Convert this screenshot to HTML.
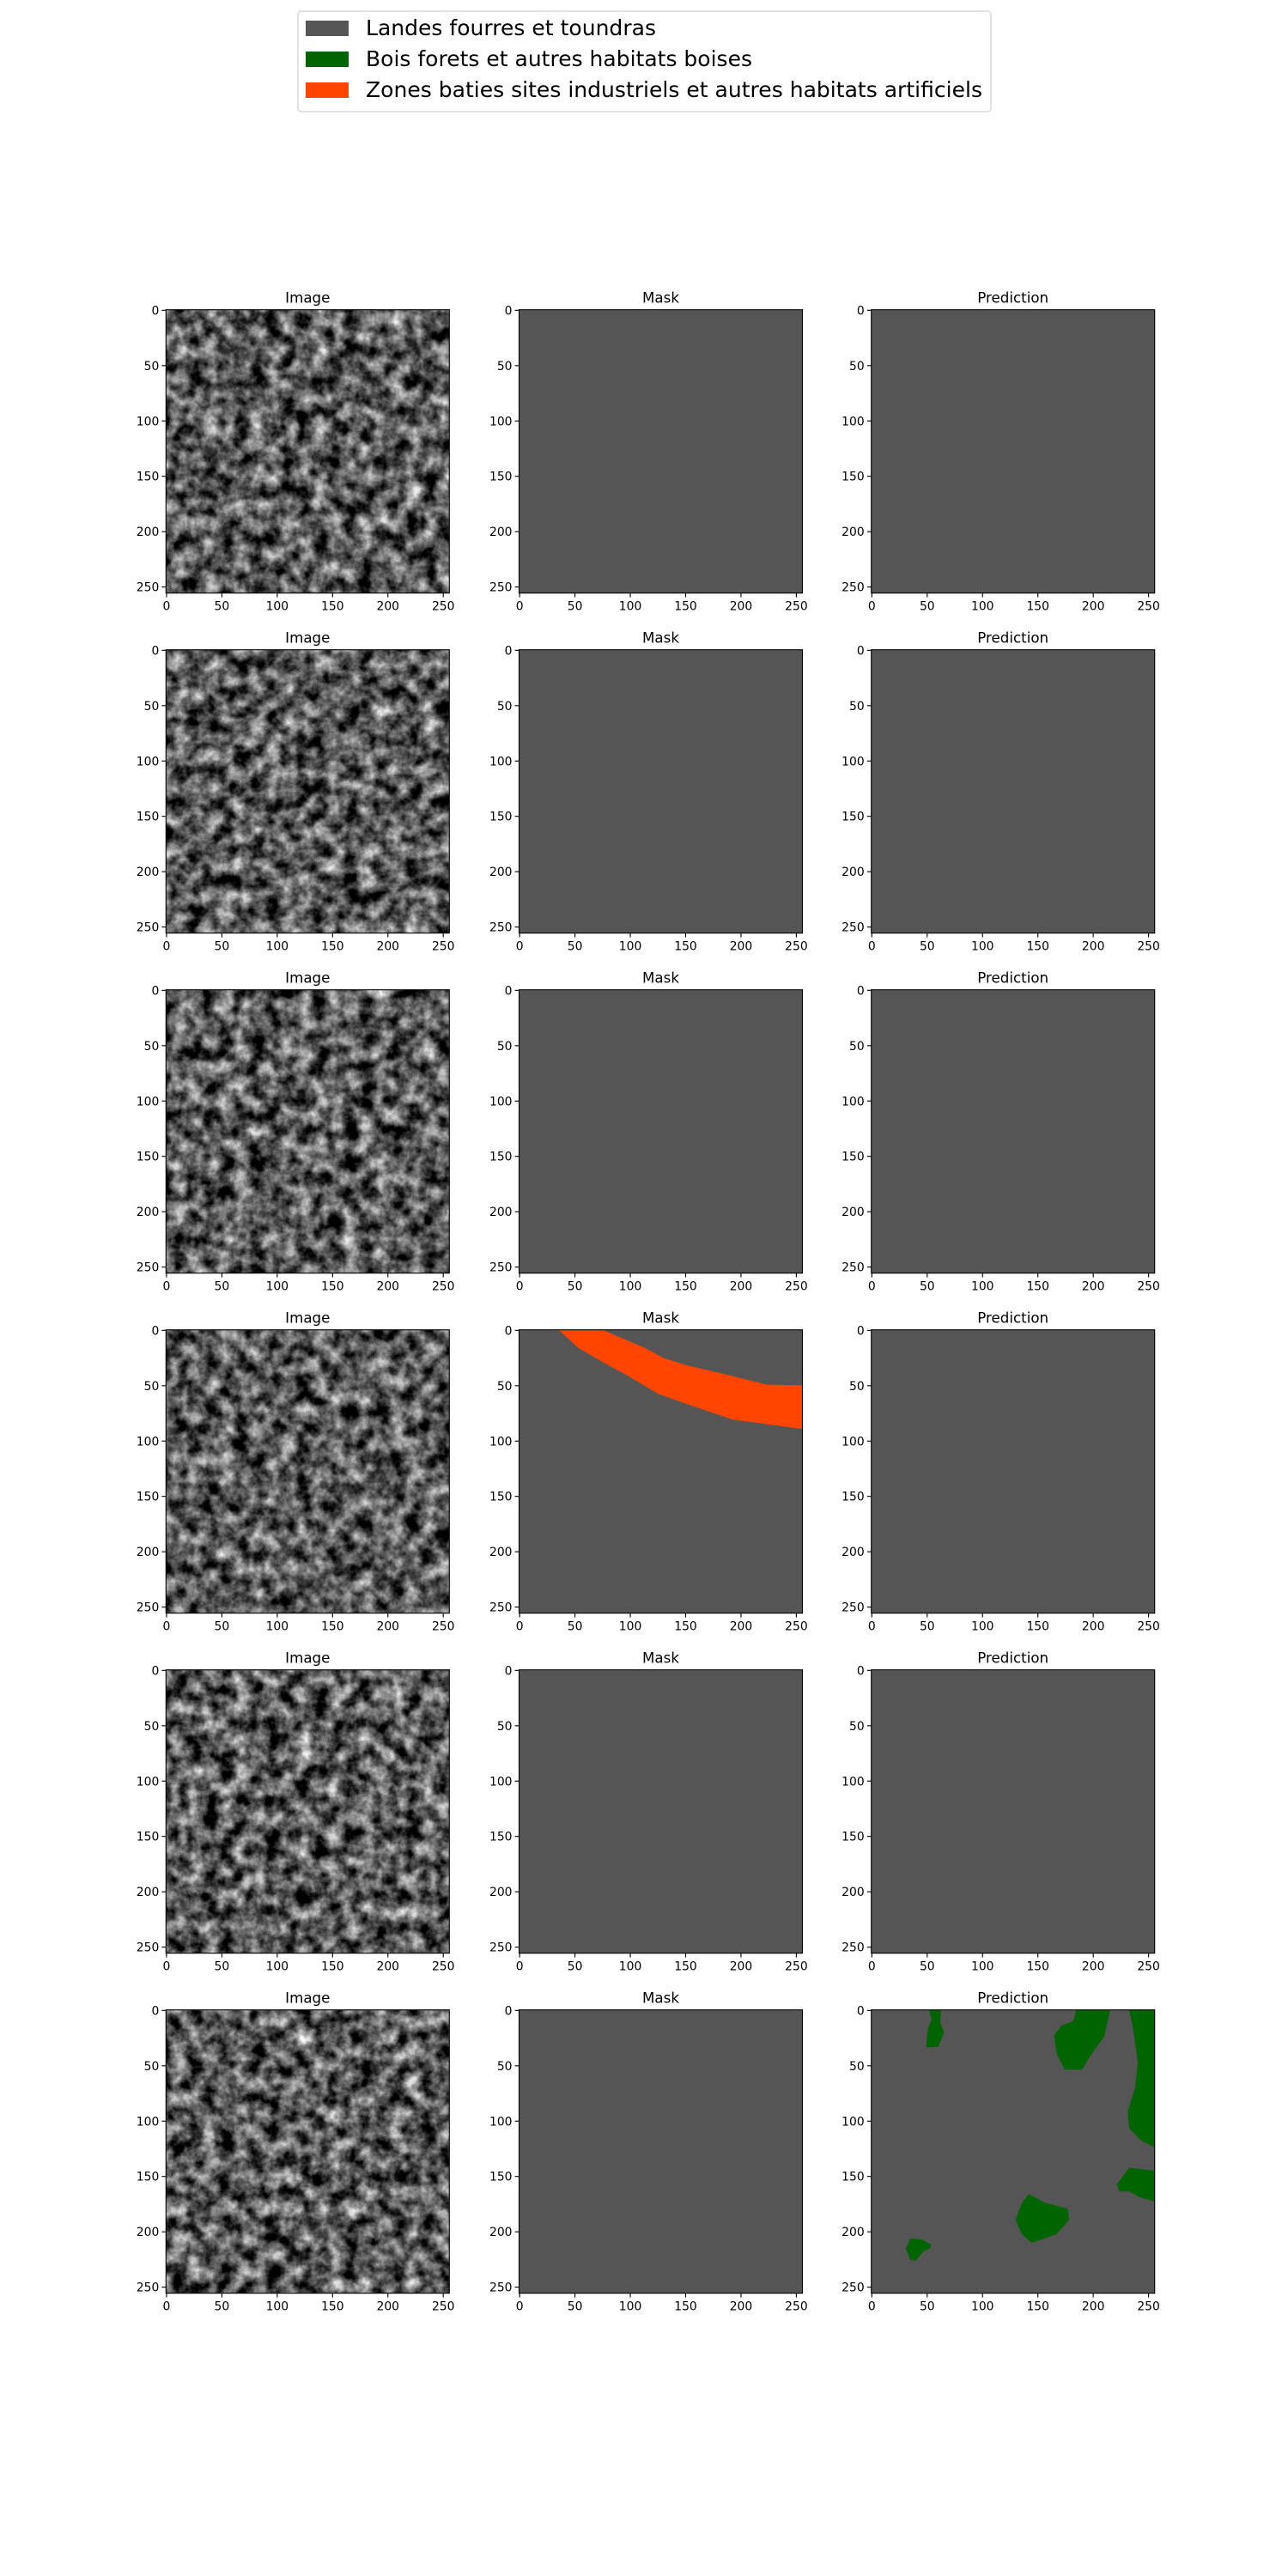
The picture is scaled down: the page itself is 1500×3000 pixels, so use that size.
<!DOCTYPE html>
<html><head><meta charset="utf-8"><title>Segmentation results</title>
<style>html,body{margin:0;padding:0;background:#fff;}svg{display:block;font-family:"DejaVu Sans","Liberation Sans",sans-serif;}</style>
</head><body>
<svg id="fig" width="1500" height="3000" viewBox="0 0 1500 3000" xmlns="http://www.w3.org/2000/svg">
<defs id="defs"></defs>
<g id="legend">
<rect x="347" y="13" width="807" height="117" rx="4" fill="#fff" stroke="#d0d0d0" stroke-width="1.2"/>
<rect x="356" y="24" width="50" height="18" fill="#555555"/>
<text x="426" y="41" font-size="25" textLength="338" lengthAdjust="spacingAndGlyphs">Landes fourres et toundras</text>
<rect x="356" y="60" width="50" height="18" fill="#006400"/>
<text x="426" y="77" font-size="25" textLength="450" lengthAdjust="spacingAndGlyphs">Bois forets et autres habitats boises</text>
<rect x="356" y="96" width="50" height="18" fill="#FF4500"/>
<text x="426" y="113" font-size="25" textLength="718" lengthAdjust="spacingAndGlyphs">Zones baties sites industriels et autres habitats artificiels</text>
</g>
<g id="panels"></g>
</svg>
<script>
// ---- data ----
const colTitles = ["Image", "Mask", "Prediction"];
const tickValues = [0, 50, 100, 150, 200, 250];
const rowCount = 6;
const imageSeeds = [3, 11, 17, 29, 41, 53];
// mask band (row 4), data coords [x, y]
const bandRow = 3;
const bandPolygon = [[35.7,0],[75.2,0],[114,16.5],[130.8,25.6],[151.5,32],[190.3,41.1],[223.9,49.6],[255.5,50.1],[255.5,89.5],[221.3,84.9],[192.9,81.1],[151.5,67],[125.6,57.9],[99.8,42.4],[74,28.2],[53.8,16.5]];
// prediction blobs (row 6), data coords
const predRow = 5;
const blobA = [[52,0],[63,0],[62.3,11.4],[65.7,20.4],[60.5,33.4],[49.4,34],[51.2,16.5],[54.6,8.8]];
const blobB = [[185,0],[215.7,0],[210.5,24.3],[200.7,37.2],[190.3,54],[174.8,54],[167.6,39.8],[165,23],[172.2,14],[182.6,10]];
const blobC = [[233,0],[255.5,0],[255.5,123.9],[244.6,118.7],[233,107],[231.7,91.5],[238.2,70.9],[240.8,47.6],[236.9,19.1]];
const blobD = [[233,142.7],[255.5,145.3],[255.5,173],[242,169],[233,164],[224,164],[221.9,157.5],[227.8,149.7]];
const blobE = [[142.5,166.5],[156.7,174.3],[177.4,179.5],[178.7,189.8],[167,202.8],[145,210.5],[136,202.7],[130.3,189.8],[136,174.3]];
const blobF = [[35.2,206.6],[45.5,207.4],[53.8,211.8],[53.3,215.1],[46.8,218.3],[40.3,226.5],[35.2,226],[31.3,215.7]];
const predBlobs = [blobA, blobB, blobC, blobD, blobE, blobF];

// ---- layout ----
const NS = "http://www.w3.org/2000/svg";
const colLeft = [193.3, 604.5, 1014.7];
const rowTop0 = 360.7, rowStep = 396, axSize = 330;
const scale = axSize / 256;
function sx(left, v) { return left + (v + 0.5) * scale; }
function sy(top, v) { return top + (v + 0.5) * scale; }
function px(left, v) { return left + v * scale; }
function py(top, v) { return top + v * scale; }
function mk(tag, attrs, parent) {
  const e = document.createElementNS(NS, tag);
  for (const k in attrs) e.setAttribute(k, attrs[k]);
  parent.appendChild(e);
  return e;
}
const panels = document.getElementById("panels");
const defs = document.getElementById("defs");
function poly(pts, left, top, fill, parent, name) {
  const p = mk("polygon", {points: pts.map(q => px(left, q[0]).toFixed(1) + "," + py(top, q[1]).toFixed(1)).join(" "), fill: fill}, parent);
  
  
}
for (let r = 0; r < rowCount; r++) {
  const top = rowTop0 + r * rowStep;
  for (let c = 0; c < 3; c++) {
    const left = colLeft[c];
    const g = mk("g", {}, panels);
    
    
    const t = mk("text", {x: left + axSize / 2, y: top - 8, "font-size": 16.7, "text-anchor": "middle"}, g);
    t.textContent = colTitles[c];
    
    
    if (c === 0) {
      const f = mk("filter", {id: "tex" + r, x: left, y: top, width: axSize, height: axSize, filterUnits: "userSpaceOnUse", "color-interpolation-filters": "sRGB"}, defs);
      mk("feTurbulence", {type: "fractalNoise", baseFrequency: "0.055", numOctaves: "5", seed: imageSeeds[r], result: "n"}, f);
      mk("feColorMatrix", {type: "matrix", values: "1.5 0 0 0 -0.4  1.5 0 0 0 -0.4  1.5 0 0 0 -0.4  0 0 0 0 1"}, f);
      const im = mk("rect", {x: left, y: top, width: axSize, height: axSize, fill: "#555", filter: "url(#tex" + r + ")"}, g);
      
      
    } else {
      const bg = mk("rect", {x: left, y: top, width: axSize, height: axSize, fill: "#555555"}, g);
      
      
      if (c === 1 && r === bandRow) poly(bandPolygon, left, top, "#FF4500", g, "mask-built-zone");
      if (c === 2 && r === predRow) predBlobs.forEach((b, i) => poly(b, left, top, "#006400", g, "prediction-forest-blob-" + (i + 1)));
    }
    const fr = mk("rect", {x: left, y: top, width: axSize, height: axSize, fill: "none", stroke: "#000", "stroke-width": 1.1}, g);
    
    
    tickValues.forEach(v => {
      const xx = sx(left, v);
      mk("line", {x1: xx, y1: top + axSize, x2: xx, y2: top + axSize + 4.9, stroke: "#000", "stroke-width": 1.1}, g);
      const xl = mk("text", {x: xx, y: top + axSize + 20, "font-size": 13.9, "text-anchor": "middle"}, g);
      xl.textContent = v;
      
      
      const yy = sy(top, v);
      mk("line", {x1: left - 4.9, y1: yy, x2: left, y2: yy, stroke: "#000", "stroke-width": 1.1}, g);
      const yl = mk("text", {x: left - 8, y: yy + 5, "font-size": 13.9, "text-anchor": "end"}, g);
      yl.textContent = v;
      
      
    });
  }
}
</script>
</body></html>
